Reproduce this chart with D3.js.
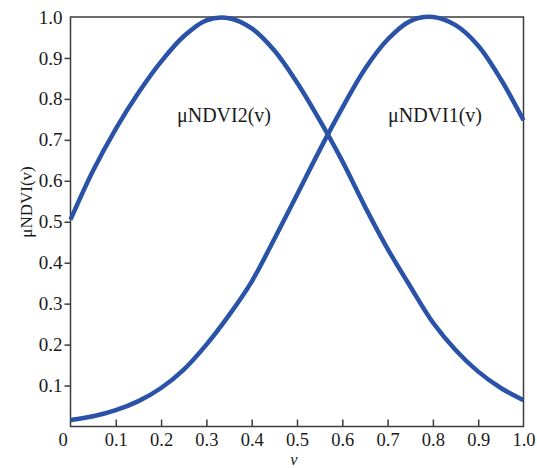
<!DOCTYPE html>
<html>
<head>
<meta charset="utf-8">
<script src="https://cdn.jsdelivr.net/npm/d3@7"></script>
<style>
  html, body { margin: 0; padding: 0; background: #fff; }
  svg { display: block; }
  text { font-family: "Liberation Serif", "Times New Roman", serif; fill: #1a1a1a; }
</style>
</head>
<body>
<svg id="chart" width="537" height="468"></svg>
<script>
// Membership functions sampled along v
const vValues = [0, 0.05, 0.10, 0.15, 0.20, 0.25, 0.30, 0.35, 0.40, 0.45, 0.50,
                 0.55, 0.60, 0.65, 0.70, 0.75, 0.80, 0.85, 0.90, 0.95, 1.00];
const mu1 = [0.016, 0.025, 0.040, 0.062, 0.094, 0.139, 0.200, 0.272, 0.354, 0.458, 0.566,
             0.675, 0.778, 0.873, 0.945, 0.990, 1.000, 0.980, 0.930, 0.848, 0.748];
const mu2 = [0.505, 0.625, 0.727, 0.815, 0.891, 0.953, 0.992, 0.997, 0.972, 0.918, 0.840,
             0.748, 0.648, 0.537, 0.434, 0.342, 0.254, 0.187, 0.134, 0.094, 0.064];
const seriesNames = ["μNDVI1(v)", "μNDVI2(v)"];
const xTicks = [0, 0.1, 0.2, 0.3, 0.4, 0.5, 0.6, 0.7, 0.8, 0.9, 1.0];
const yTicks = [0.1, 0.2, 0.3, 0.4, 0.5, 0.6, 0.7, 0.8, 0.9, 1.0];
const xTitle = "v";
const yTitle = "μNDVI(v)";

const svg = d3.select("#chart");
const plotL = 70.5, plotR = 523.5, plotT = 17, plotB = 426.5;
const x = d3.scaleLinear().domain([0, 1]).range([plotL, plotR]);
const y = d3.scaleLinear().domain([0, 1]).range([plotB, plotT]);

const axisColor = "#3c3c3c";
const lineColor = "#2a53a7";

// frame
svg.append("rect")
  .attr("x", plotL).attr("y", plotT)
  .attr("width", plotR - plotL).attr("height", plotB - plotT)
  .attr("fill", "none").attr("stroke", axisColor).attr("stroke-width", 1.5);

// x axis: ticks point inward
const xAxis = d3.axisBottom(x).tickValues(xTicks).tickSize(-7).tickPadding(6.5)
  .tickFormat(d => d === 0 ? "0" : d3.format(".1f")(d));
const gx = svg.append("g").attr("transform", `translate(0,${plotB})`).call(xAxis);
gx.select(".domain").remove();
gx.selectAll(".tick line").attr("stroke", axisColor).attr("stroke-width", 1.5);
gx.selectAll(".tick").filter(d => d === 0 || d === 1).select("line").remove();
gx.selectAll(".tick text").attr("font-size", 18.5).attr("fill", "#1a1a1a")
  .attr("dy", "0.71em");
gx.selectAll(".tick").filter(d => d === 0).select("text").attr("dx", -8);

// y axis: ticks point outward
const yAxis = d3.axisLeft(y).tickValues(yTicks).tickSize(6).tickPadding(2)
  .tickFormat(d3.format(".1f"));
const gy = svg.append("g").attr("transform", `translate(${plotL},0)`).call(yAxis);
gy.select(".domain").remove();
gy.selectAll(".tick line").attr("stroke", axisColor).attr("stroke-width", 1.5);
gy.selectAll(".tick").filter(d => d === 1).select("line").remove();
gy.selectAll(".tick text").attr("font-size", 19).attr("fill", "#1a1a1a");

// curves
const line = d3.line()
  .x((d, i) => x(vValues[i]))
  .y(d => y(d))
  .curve(d3.curveCatmullRom.alpha(0.5));

[mu1, mu2].forEach(s => {
  svg.append("path")
    .datum(s)
    .attr("d", line)
    .attr("fill", "none")
    .attr("stroke", lineColor)
    .attr("stroke-width", 4.5)
    .attr("stroke-linejoin", "round");
});

// curve labels
svg.append("text").attr("x", 388).attr("y", 122).attr("font-size", 20).text(seriesNames[0]);
svg.append("text").attr("x", 177).attr("y", 122).attr("font-size", 20).text(seriesNames[1]);

// axis titles
svg.append("text").attr("x", 294).attr("y", 464.5).attr("text-anchor", "middle")
  .attr("font-size", 16.5).attr("font-style", "italic").text(xTitle);
svg.append("text")
  .attr("transform", "translate(32,202) rotate(-90)")
  .attr("text-anchor", "middle").attr("font-size", 17).text(yTitle);
</script>
</body>
</html>
